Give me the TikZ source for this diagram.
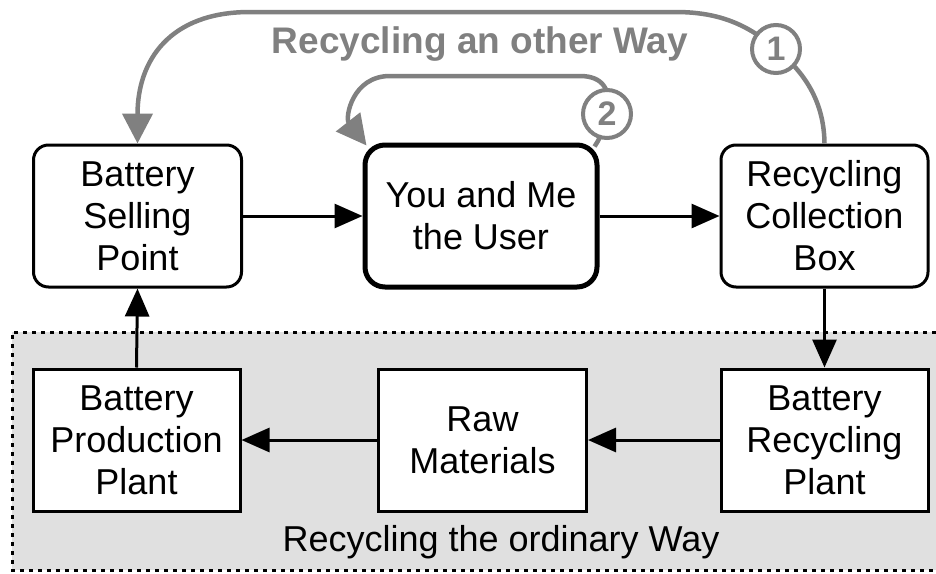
\documentclass[tikz,border=0pt]{standalone}
\usepackage{fontspec}
\setmainfont{Liberation Sans}
\usetikzlibrary{arrows.meta}
\definecolor{loopgray}{RGB}{128,128,128}
\definecolor{zonegray}{RGB}{224,224,224}

\begin{document}
\begin{tikzpicture}[x=1pt,y=-1pt,
  boxtext/.style={font=\fontsize{36}{42}\selectfont, align=center, inner sep=0pt,
                  draw=black, line width=3pt, minimum height=142pt, fill=white},
  roundbox/.style={boxtext, rounded corners=15pt},
  plainbox/.style={boxtext},
  flow/.style={line width=3pt, -{Triangle[length=28pt,width=24pt]}},
  altflow/.style={draw=loopgray, line width=4.5pt, -{Triangle[length=30pt,width=30pt]}},
  badge/.style={circle, draw=loopgray, line width=4pt, fill=white, minimum size=48pt,
                inner sep=0pt, text=loopgray, font=\fontsize{34}{34}\selectfont\bfseries}
]
\useasboundingbox (0,0) rectangle (936,573);

% shaded zone of the ordinary recycling chain
\fill[zonegray] (12,332) rectangle (936,570);
\draw[line width=3pt, dash pattern=on 4pt off 5pt] (936,332) -- (12,332) -- (12,570) -- (936,570);
\node[font=\fontsize{36}{36}\selectfont] (ordlabel) at (501,542) {Recycling the ordinary Way};

% boxes
\node[roundbox, minimum width=208pt] (sell) at (137.5,216) {Battery\\Selling\\Point};
\node[roundbox, minimum width=232pt, line width=5pt, rounded corners=20pt] (user) at (481,216) {You and Me\\the User};
\node[roundbox, minimum width=207pt] (coll) at (824.5,216) {Recycling\\Collection\\Box};
\node[plainbox, minimum width=207pt] (prod) at (136.5,440) {Battery\\Production\\Plant};
\node[plainbox, minimum width=208pt] (raw) at (482.5,440) {Raw\\Materials};
\node[plainbox, minimum width=207pt] (recy) at (824.5,440) {Battery\\Recycling\\Plant};

% main flow
\draw[flow] (sell.east) -- (user.west);
\draw[flow] (user.east) -- (coll.west);
\draw[flow] (coll.south) -- (recy.north);
\draw[flow] (recy.west) -- (raw.east);
\draw[flow] (raw.west) -- (prod.east);
\draw[flow] (prod.north) -- (sell.south);

% the other way: back to the selling point
\node[text=loopgray, font=\fontsize{37}{37}\selectfont\bfseries] (altlabel) at (480,44) {Recycling an other Way};
\draw[altflow] (coll.north) .. controls (824,105) and (808,75) .. (776,49)
  .. controls (745,22) and (715,12) .. (675,12) -- (250,12)
  .. controls (170,12) and (137.5,60) .. (sell.north);
\node[badge] (one) at (776,49) {1};

% reuse by the user
\draw[altflow] ([xshift=-5pt,yshift=-4pt]user.north east) .. controls (600,138) .. (607,114)
  .. controls (612,90) and (603,76) .. (580,76) -- (390,76)
  .. controls (352,76) and (345,118) .. ([xshift=4pt,yshift=-3pt]user.north west);
\node[badge] (two) at (607,114) {2};
\end{tikzpicture}
\end{document}
